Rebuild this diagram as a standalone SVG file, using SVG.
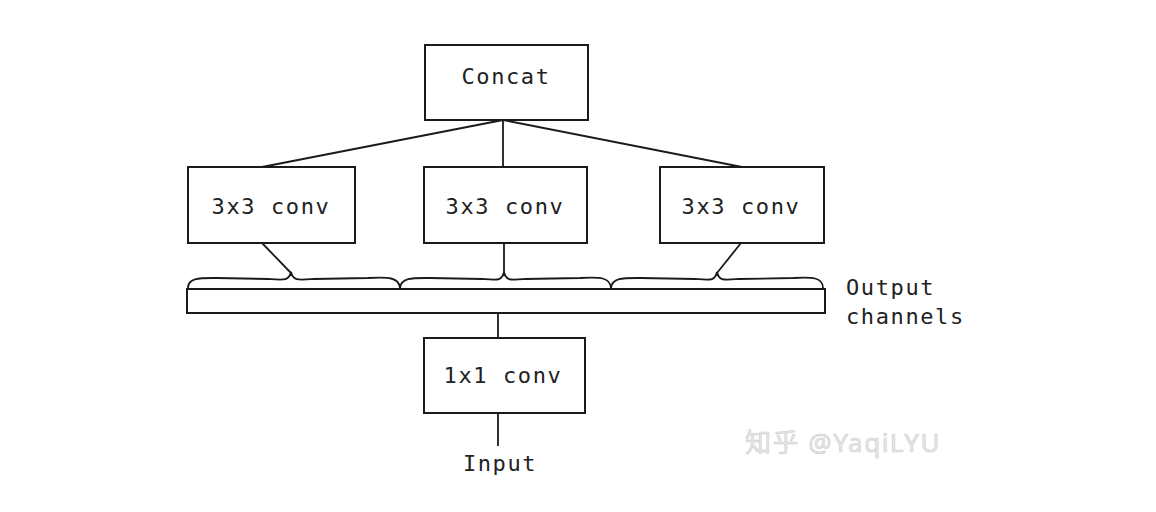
<svg xmlns="http://www.w3.org/2000/svg" width="1156" height="512" viewBox="0 0 1156 512">
<style>
.box{fill:#fff;stroke:#1a1a1a;stroke-width:2}
.ln{fill:none;stroke:#1a1a1a;stroke-width:1.8}
.t{font-family:"DejaVu Sans Mono","Liberation Mono",monospace;font-size:22px;fill:#222;text-anchor:middle;letter-spacing:1.6px}
.tl{font-family:"DejaVu Sans Mono","Liberation Mono",monospace;font-size:22px;fill:#222;letter-spacing:1.6px}
.wm{font-family:"Noto Sans","Noto Sans CJK SC",sans-serif;font-size:26px;fill:#e6e6e6;stroke:#d0d0d0;stroke-width:0.6;letter-spacing:1.5px}
</style>
<rect width="1156" height="512" fill="#fff"/>
<g id="connectors">
<line class="ln" x1="503" y1="120" x2="262" y2="167"/>
<line class="ln" x1="503" y1="120" x2="503" y2="167"/>
<line class="ln" x1="503" y1="120" x2="742" y2="167"/>
<line class="ln" x1="262" y1="243" x2="291" y2="273"/>
<line class="ln" x1="504" y1="243" x2="504" y2="273"/>
<line class="ln" x1="741" y1="243" x2="717" y2="273"/>
<line class="ln" x1="498" y1="313" x2="498" y2="338"/>
<line class="ln" x1="498" y1="413" x2="498" y2="446"/>
</g>
<g id="braces">
<path class="ln" d="M188,288 C188,277 202,278 217,278 L268,279 C284,280 289,281 291,272 C293,281 298,280 314,279 L368,278 C388,277 399,277 400,288"/>
<path class="ln" d="M400,288 C401,277 414,278 430,278 L482,279 C498,280 502,281 504,272 C506,281 510,280 526,279 L580,278 C600,277 610,277 611,288"/>
<path class="ln" d="M611,288 C612,277 625,278 641,278 L695,279 C711,280 715,281 717,272 C719,281 723,280 739,279 L793,278 C812,277 823,277 823,288"/>
</g>
<g id="concat"><rect class="box" x="425" y="45" width="163" height="75"/><text class="t" x="506" y="84">Concat</text></g>
<g id="conv3a"><rect class="box" x="188" y="167" width="167" height="76"/><text class="t" x="271" y="214">3x3 conv</text></g>
<g id="conv3b"><rect class="box" x="424" y="167" width="163" height="76"/><text class="t" x="505" y="214">3x3 conv</text></g>
<g id="conv3c"><rect class="box" x="660" y="167" width="164" height="76"/><text class="t" x="741" y="214">3x3 conv</text></g>
<g id="channels"><rect class="box" x="187" y="289" width="638" height="24"/>
<text class="tl" x="846" y="295">Output</text><text class="tl" x="846" y="324">channels</text></g>
<g id="conv1"><rect class="box" x="424" y="338" width="161" height="75"/><text class="t" x="503" y="383">1x1 conv</text></g>
<g id="input"><text class="t" x="500" y="471">Input</text></g>
<text class="wm" x="745" y="452">知乎 @YaqiLYU</text>
</svg>
